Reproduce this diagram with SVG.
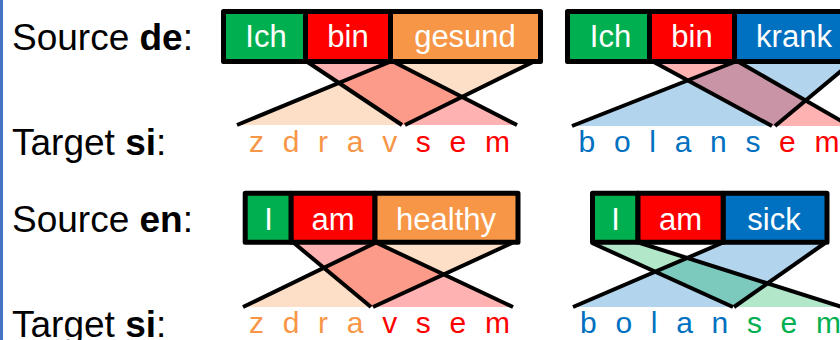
<svg xmlns="http://www.w3.org/2000/svg" width="840" height="340" viewBox="0 0 840 340">
  <style>
    text { font-family: "Liberation Sans", Arial, Helvetica, sans-serif; }
    .lbl { font-size: 37px; fill: #000; }
    .bold { font-weight: bold; }
    .cell { stroke: #000; stroke-width: 5; stroke-linejoin: round; }
    .word { font-size: 31px; fill: #fff; text-anchor: middle; }
    .tgt { font-size: 30px; letter-spacing: 18.7px; }
    .edge { stroke: #000; stroke-width: 4; fill: none; }
    .span { fill-opacity: 0.3; stroke: none; }
    .g { fill: #00B050; }
    .r { fill: #FF0000; }
    .o { fill: #F79646; }
    .bl { fill: #0070C0; }
  </style>

  <!-- slide edge bar -->
  <rect x="0" y="0" width="3" height="340" fill="#4472C4"/>

  <!-- row labels -->
  <g id="label-source-de"><text class="lbl" x="12" y="50">Source <tspan class="bold">de</tspan>:</text></g>
  <g id="label-target-si-1"><text class="lbl" x="12" y="155">Target <tspan class="bold">si</tspan>:</text></g>
  <g id="label-source-en"><text class="lbl" x="12" y="231.5">Source <tspan class="bold">en</tspan>:</text></g>
  <g id="label-target-si-2"><text class="lbl" x="12" y="336.5">Target <tspan class="bold">si</tspan>:</text></g>

  <!-- alignment spans between source words and target characters -->
  <g id="connectors">
    <!-- de: Ich bin gesund -> zdravsem -->
    <polygon class="span o" points="391.5,62 535,62 404,125 237,125"/>
    <polygon class="span r" points="306,62 392,62 517,125 403,125"/>
    <line class="edge" x1="306" y1="61" x2="402" y2="125"/>
    <line class="edge" x1="392" y1="61" x2="237" y2="125"/>
    <line class="edge" x1="535" y1="61" x2="405" y2="125"/>
    <line class="edge" x1="392" y1="61" x2="517" y2="125"/>

    <!-- de: Ich bin krank -> bolansem -->
    <polygon class="span bl" points="737,62 853,62 773,126 572,126"/>
    <polygon class="span r" points="652,62 737,62 850,126 773,126"/>
    <line class="edge" x1="652" y1="61" x2="772" y2="126"/>
    <line class="edge" x1="737" y1="61" x2="572" y2="126"/>
    <line class="edge" x1="853" y1="61" x2="775" y2="126"/>
    <line class="edge" x1="737" y1="61" x2="850" y2="126"/>

    <!-- en: I am healthy -> zdravsem -->
    <polygon class="span o" points="375,244 512,244 372,307 243,307"/>
    <polygon class="span r" points="294,244 377,244 513,307 372,307"/>
    <line class="edge" x1="294" y1="243" x2="371" y2="307"/>
    <line class="edge" x1="375" y1="243" x2="243" y2="307"/>
    <line class="edge" x1="512" y1="243" x2="373" y2="307"/>
    <line class="edge" x1="377" y1="243" x2="513" y2="307"/>

    <!-- en: I am sick -> bolansem -->
    <polygon class="span bl" points="722,244 825,244 733,307 573,307"/>
    <polygon class="span g" points="592,244 640,244 842,307 733,307"/>
    <line class="edge" x1="592" y1="243" x2="733" y2="307"/>
    <line class="edge" x1="640" y1="243" x2="842" y2="307"/>
    <line class="edge" x1="722" y1="243" x2="573" y2="307"/>
    <line class="edge" x1="825" y1="243" x2="734" y2="307"/>
  </g>

  <!-- source sentence: Ich bin gesund -->
  <g id="src-de-1">
    <rect class="cell g" x="223.5" y="11.5" width="82" height="50"/>
    <rect class="cell r" x="305.5" y="11.5" width="85" height="50"/>
    <rect class="cell o" x="390.5" y="11.5" width="150" height="50"/>
    <text class="word" x="266" y="46.5">Ich</text>
    <text class="word" x="348" y="46.5">bin</text>
    <text class="word" x="465" y="46.5">gesund</text>
  </g>

  <!-- source sentence: Ich bin krank -->
  <g id="src-de-2">
    <rect class="cell g" x="567.5" y="11.5" width="82" height="50"/>
    <rect class="cell r" x="649.5" y="11.5" width="85" height="50"/>
    <rect class="cell bl" x="734.5" y="11.5" width="119" height="50"/>
    <text class="word" x="610.5" y="46.5">Ich</text>
    <text class="word" x="692" y="46.5">bin</text>
    <text class="word" x="794" y="46.5">krank</text>
  </g>

  <!-- source sentence: I am healthy -->
  <g id="src-en-1">
    <rect class="cell g" x="245.2" y="193.2" width="46" height="49"/>
    <rect class="cell r" x="291.2" y="193.2" width="83.8" height="49"/>
    <rect class="cell o" x="375" y="193.2" width="143" height="49"/>
    <text class="word" x="268.5" y="230">I</text>
    <text class="word" x="333" y="230">am</text>
    <text class="word" x="446" y="230">healthy</text>
  </g>

  <!-- source sentence: I am sick -->
  <g id="src-en-2">
    <rect class="cell g" x="592.5" y="193.2" width="45.5" height="49"/>
    <rect class="cell r" x="638" y="193.2" width="85.3" height="49"/>
    <rect class="cell bl" x="723.3" y="193.2" width="103.7" height="49"/>
    <text class="word" x="615.5" y="230">I</text>
    <text class="word" x="680.5" y="230">am</text>
    <text class="word" x="774" y="230">sick</text>
  </g>

  <!-- target character sequences -->
  <g id="tgt-de-1"><text class="tgt" x="249" y="151.5"><tspan class="o">zdrav</tspan><tspan class="r">sem</tspan></text></g>
  <g id="tgt-de-2"><text class="tgt" x="578.5" y="151.5"><tspan class="bl">bolans</tspan><tspan class="r">em</tspan></text></g>
  <g id="tgt-en-1"><text class="tgt" x="249" y="333"><tspan class="o">zdra</tspan><tspan class="r">vsem</tspan></text></g>
  <g id="tgt-en-2"><text class="tgt" x="580" y="333"><tspan class="bl">bolan</tspan><tspan class="g">sem</tspan></text></g>
</svg>
